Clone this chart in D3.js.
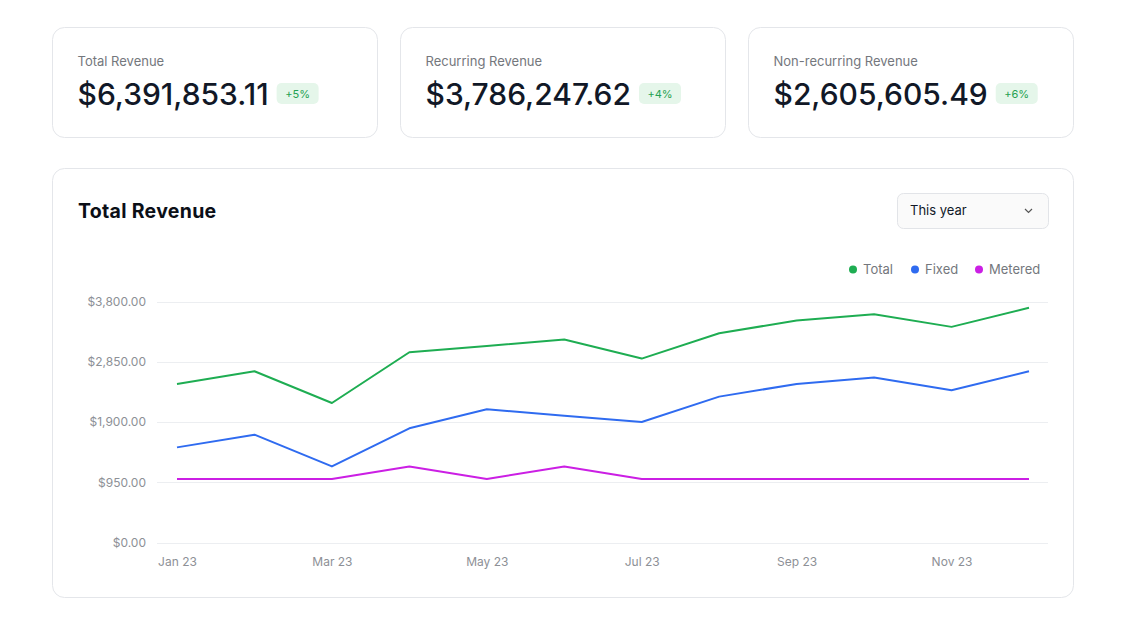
<!DOCTYPE html>
<html>
<head>
<meta charset="utf-8">
<script src="https://cdn.jsdelivr.net/npm/d3@7"></script>
<style>
  html, body { margin: 0; padding: 0; background: #ffffff; }
  body { width: 1126px; height: 626px; overflow: hidden; font-family: Inter, "Noto Sans", sans-serif; }
  svg { display: block; }
</style>
</head>
<body>
<svg id="chart" width="1126" height="626"></svg>
<script>
// ---- Data ----
const months = ["Jan 23","Feb 23","Mar 23","Apr 23","May 23","Jun 23","Jul 23","Aug 23","Sep 23","Oct 23","Nov 23","Dec 23"];
const totalValues   = [2500, 2700, 2200, 3000, 3100, 3200, 2900, 3300, 3500, 3600, 3400, 3700];
const fixedValues   = [1500, 1700, 1200, 1800, 2100, 2000, 1900, 2300, 2500, 2600, 2400, 2700];
const meteredValues = [1000, 1000, 1000, 1200, 1000, 1200, 1000, 1000, 1000, 1000, 1000, 1000];
const yTicks = [0, 950, 1900, 2850, 3800];
const xTickLabels = ["Jan 23","Mar 23","May 23","Jul 23","Sep 23","Nov 23"];
const seriesNames = ["Total", "Fixed", "Metered"];
const kpiLabels = ["Total Revenue", "Recurring Revenue", "Non-recurring Revenue"];
const kpiValues = ["$6,391,853.11", "$3,786,247.62", "$2,605,605.49"];
const kpiChanges = ["+5%", "+4%", "+6%"];

const colors = { Total: "#1ead52", Fixed: "#2f6bf0", Metered: "#cb1fe4" };
const seriesData = { Total: totalValues, Fixed: fixedValues, Metered: meteredValues };

const svg = d3.select("#chart");

// ---- KPI cards ----
const cardX = [52.5, 400.5, 748.5];
kpiLabels.forEach((lab, i) => {
  const g = svg.append("g").attr("transform", `translate(${cardX[i]},27.5)`);
  g.append("rect").attr("width", 325).attr("height", 110).attr("rx", 12)
    .attr("fill", "#fff").attr("stroke", "#e4e6ea");
  g.append("text").attr("x", 25).attr("y", 38.5).text(lab)
    .attr("font-size", 13).attr("fill", "#74777d");
  const val = g.append("text").attr("x", 25).attr("y", 77.5).text(kpiValues[i])
    .attr("font-size", 30).attr("font-weight", 500).attr("fill", "#111827");
  const w = val.node().getComputedTextLength();
  const bx = 25 + w + 8;
  g.append("rect").attr("x", bx).attr("y", 55.5).attr("width", 42).attr("height", 21).attr("rx", 5)
    .attr("fill", "#e5f6ea");
  g.append("text").attr("x", bx + 21).attr("y", 70).attr("text-anchor", "middle")
    .text(kpiChanges[i]).attr("font-size", 11).attr("fill", "#25a152");
});

// ---- Chart card ----
svg.append("rect").attr("x", 52.5).attr("y", 168.5).attr("width", 1021).attr("height", 429).attr("rx", 12)
  .attr("fill", "#fff").attr("stroke", "#e4e6ea");
svg.append("text").attr("x", 78).attr("y", 217.5).text("Total Revenue")
  .attr("font-size", 19.5).attr("font-weight", 700).attr("fill", "#0b0f17")
  .attr("letter-spacing", "0.3");

// dropdown
svg.append("rect").attr("x", 897.5).attr("y", 193.5).attr("width", 151).attr("height", 35).attr("rx", 6)
  .attr("fill", "#fafafa").attr("stroke", "#e2e4e8");
svg.append("text").attr("x", 910).attr("y", 215).text("This year")
  .attr("font-size", 13).attr("fill", "#111827");
svg.append("path").attr("d", "M1025,209 L1028.5,212.5 L1032,209")
  .attr("fill", "none").attr("stroke", "#555").attr("stroke-width", 1.2);

// legend
const legendX = [853, 915, 979];
seriesNames.forEach((s, i) => {
  svg.append("circle").attr("cx", legendX[i]).attr("cy", 269.5).attr("r", 4).attr("fill", colors[s]);
  svg.append("text").attr("x", legendX[i] + 10).attr("y", 274).text(s)
    .attr("font-size", 13).attr("fill", "#74777d");
});

// ---- Scales ----
const x = d3.scalePoint().domain(months).range([177, 1029]);
const y = d3.scaleLinear().domain([0, 3800]).range([542.5, 301.5]);

// grid
svg.append("g").selectAll("line").data(yTicks).join("line")
  .attr("x1", 157).attr("x2", 1048)
  .attr("y1", d => Math.round(y(d)) + 0.5).attr("y2", d => Math.round(y(d)) + 0.5)
  .attr("stroke", "#eceef1").attr("stroke-width", 1);

// y axis
const yAxis = d3.axisLeft(y).tickValues(yTicks).tickSize(0).tickPadding(0)
  .tickFormat(d => "$" + d3.format(",.2f")(d));
const yg = svg.append("g").attr("transform", "translate(146,0)").call(yAxis);
yg.select(".domain").remove();
yg.selectAll("text").attr("font-size", 12).attr("fill", "#8d9096").attr("font-family", "Inter, sans-serif");

// x axis
const xAxis = d3.axisBottom(x).tickValues(xTickLabels).tickSize(0).tickPadding(0);
const xg = svg.append("g").attr("transform", "translate(0,557)").call(xAxis);
xg.select(".domain").remove();
xg.selectAll("text").attr("font-size", 12).attr("fill", "#8d9096").attr("font-family", "Inter, sans-serif");

// lines
const line = d3.line().x((d, i) => x(months[i])).y(d => y(d));
seriesNames.slice().reverse().forEach(s => {
  svg.append("path").datum(seriesData[s]).attr("d", line)
    .attr("fill", "none").attr("stroke", colors[s]).attr("stroke-width", 2)
    .attr("stroke-linejoin", "round");
});
</script>
</body>
</html>
